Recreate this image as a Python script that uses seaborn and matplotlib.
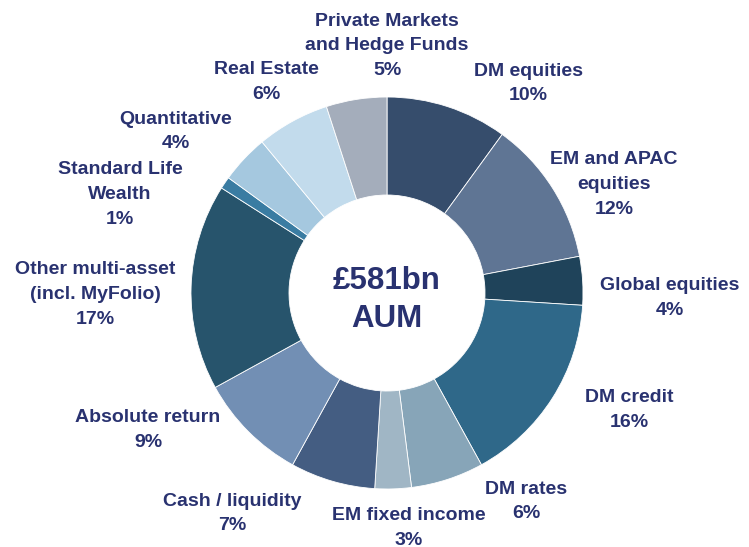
import matplotlib
matplotlib.use("Agg")
import matplotlib.pyplot as plt
import seaborn as sns
from matplotlib import font_manager

sns.set_theme(style="white")

categories = ["DM equities", "EM and APAC\nequities", "Global equities", "DM credit",
              "DM rates", "EM fixed income", "Cash / liquidity", "Absolute return",
              "Other multi-asset\n(incl. MyFolio)", "Standard Life\nWealth", "Quantitative",
              "Real Estate", "Private Markets\nand Hedge Funds"]
shares = [10, 12, 4, 16, 6, 3, 7, 9, 17, 1, 4, 6, 5]
pct_labels = ["10%", "12%", "4%", "16%", "6%", "3%", "7%", "9%", "17%", "1%", "4%", "6%", "5%"]
colors = ["#364d6c", "#5f7594", "#1f435a", "#2f6889", "#87a5b8", "#a0b6c5", "#445d82",
          "#728fb4", "#27546c", "#3a7ca2", "#a5c8df", "#c2dbec", "#a4adbb"]

names = {f.name for f in font_manager.fontManager.ttflist}
narrow = "Liberation Sans Narrow" if "Liberation Sans Narrow" in names else "Liberation Sans"
plt.rcParams["font.family"] = [narrow, "DejaVu Sans"]

W, H = 749, 547
fig = plt.figure(figsize=(W / 100, H / 100), dpi=100)
ax = fig.add_axes([0, 0, 1, 1])
ax.pie(shares, colors=colors, startangle=90, counterclock=False,
       center=(387, H - 293), radius=196,
       wedgeprops=dict(width=98, edgecolor="white", linewidth=0.6))
ax.set_xlim(0, W)
ax.set_ylim(0, H)
ax.set_aspect("equal")
ax.axis("off")

txt_color = "#293270"
# label positions in pixels (x, y of first line center)
label_pos = [(528, 71), (614, 160), (670, 286), (629, 398), (526, 489), (409, 516),
             (232, 501), (148, 418), (95, 270), (120, 170), (176, 119), (266, 70), (387, 21)]
line_h = 24.8
for name, pct, (x, y) in zip(categories, pct_labels, label_pos):
    lines = name.split("\n") + [pct]
    for i, line in enumerate(lines):
        ax.text(x, H - (y + i * line_h), line, ha="center", va="center",
                fontsize=14, fontweight="bold", color=txt_color)

ax.text(387, H - 281, "£581bn", ha="center", va="center", fontsize=22.5,
        fontweight="bold", color=txt_color, family=["Liberation Sans", "DejaVu Sans"])
ax.text(387, H - 319, "AUM", ha="center", va="center", fontsize=22.5,
        fontweight="bold", color=txt_color, family=["Liberation Sans", "DejaVu Sans"])

fig.savefig("out.png", dpi=100)
